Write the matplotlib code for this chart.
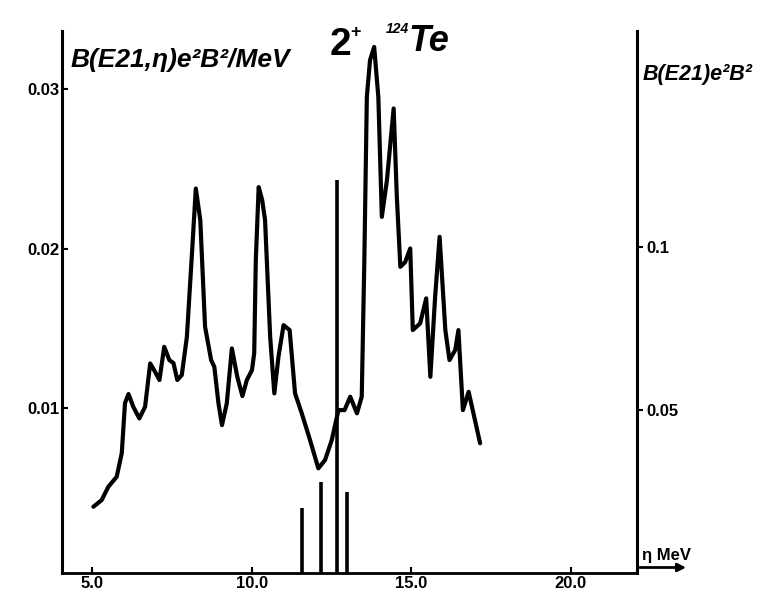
import matplotlib
matplotlib.use("Agg")
import matplotlib.pyplot as plt

# Strength function curve (left axis, e^2 b^2 / MeV) vs excitation energy (MeV)
energy = [5.04, 5.30, 5.51, 5.77, 5.93, 6.03, 6.14, 6.29, 6.48, 6.66, 6.82, 6.97,
          7.11, 7.26, 7.42, 7.55, 7.67, 7.81, 7.97, 8.13, 8.25, 8.39, 8.54, 8.73,
          8.83, 8.96, 9.07, 9.22, 9.38, 9.55, 9.71, 9.85, 10.01, 10.08, 10.13, 10.22,
          10.33, 10.42, 10.58, 10.71, 10.84, 11.00, 11.19, 11.36, 11.57, 11.83, 12.09,
          12.30, 12.51, 12.72, 12.91, 13.09, 13.30, 13.45, 13.53, 13.61, 13.71, 13.84,
          13.97, 14.08, 14.24, 14.45, 14.55, 14.66, 14.81, 14.97, 15.05, 15.28, 15.47,
          15.60, 15.75, 15.89, 16.07, 16.20, 16.38, 16.48, 16.62, 16.80, 17.16]
strength = [0.00381, 0.00423, 0.00507, 0.00569, 0.00718, 0.01031, 0.01088, 0.01008,
            0.00935, 0.01008, 0.01280, 0.01228, 0.01176, 0.01384, 0.01301, 0.01282,
            0.01176, 0.01207, 0.01447, 0.01972, 0.02377, 0.02179, 0.01510, 0.01301,
            0.01259, 0.01029, 0.00893, 0.01029, 0.01374, 0.01196, 0.01075, 0.01176,
            0.01238, 0.01345, 0.01928, 0.02386, 0.02304, 0.02179, 0.01447, 0.01092,
            0.01322, 0.01520, 0.01489, 0.01092, 0.00967, 0.00799, 0.00622, 0.00674,
            0.00799, 0.00987, 0.00987, 0.01071, 0.00967, 0.01071, 0.01909, 0.02952,
            0.03182, 0.03265, 0.02952, 0.02199, 0.02430, 0.02879, 0.02325, 0.01886,
            0.01915, 0.02001, 0.01489, 0.01531, 0.01688, 0.01196, 0.01698, 0.02074,
            0.01489, 0.01301, 0.01364, 0.01489, 0.00987, 0.01102, 0.00779]

# Discrete B(E2) levels (right axis, e^2 b^2)
level_energy = [11.59, 12.18, 12.67, 12.98]
level_be2 = [0.0198, 0.0280, 0.1206, 0.0249]

x_ticks = [5.0, 10.0, 15.0, 20.0]
x_tick_labels = ["5.0", "10.0", "15.0", "20.0"]
left_ticks = [0.01, 0.02, 0.03]
left_tick_labels = ["0.01", "0.02", "0.03"]
right_ticks = [0.05, 0.1]
right_tick_labels = ["0.05", "0.1"]

FONT = ["Liberation Sans Narrow", "Liberation Sans", "DejaVu Sans"]

fig = plt.figure(figsize=(7.63, 5.99), dpi=100)
ax = fig.add_axes([0.081, 0.0434, 0.754, 0.9046])
ax2 = ax.twinx()

ax.plot(energy, strength, color="black", lw=3.0, solid_capstyle="round",
        solid_joinstyle="round")
ax.set_xlim(4.05, 22.08)
ax.set_ylim(-0.000345, 0.03364)
ax2.set_ylim(0, 0.1663)
ax2.vlines(level_energy, 0, level_be2, color="black", lw=2.6)

for a in (ax, ax2):
    for s in a.spines.values():
        s.set_visible(False)
ax.spines["left"].set_visible(True)
ax.spines["bottom"].set_visible(True)
ax2.spines["right"].set_visible(True)
ax.spines["left"].set_linewidth(2.2)
ax.spines["bottom"].set_linewidth(2.0)
ax2.spines["right"].set_linewidth(2.2)

ax.set_xticks(x_ticks)
ax.set_xticklabels(x_tick_labels)
ax.set_yticks(left_ticks)
ax.set_yticklabels(left_tick_labels)
ax2.set_yticks(right_ticks)
ax2.set_yticklabels(right_tick_labels)
ax.tick_params(axis="x", direction="in", length=4, width=1.5, pad=2)
ax.tick_params(axis="y", direction="in", length=4, width=1.5, pad=2)
ax2.tick_params(axis="y", direction="out", length=4, width=1.5, pad=3)
for lab in ax.get_xticklabels() + ax.get_yticklabels() + ax2.get_yticklabels():
    lab.set_fontfamily(FONT)
    lab.set_fontweight("bold")
    lab.set_fontsize(12)

# arrow extension of the energy axis
ax.annotate("", xy=(1.09, 0), xycoords=("axes fraction", "data"),
            xytext=(1.0, 0), textcoords=("axes fraction", "data"),
            arrowprops=dict(arrowstyle="-|>", color="black", lw=2.0,
                            mutation_scale=12), annotation_clip=False)
ax.set_ylim(-0.000345, 0.03364)

fig.text(0.092, 0.90, "B(E21,η)e²B²/MeV", fontsize=19, fontweight="bold",
         style="italic", family=FONT, va="center", ha="left")
fig.text(0.432, 0.925, "2", fontsize=28, family=FONT, fontweight="bold",
         va="center", ha="left")
fig.text(0.459, 0.945, "+", fontsize=13, fontweight="bold", family=FONT,
         va="center", ha="left")
fig.text(0.505, 0.952, "124", fontsize=10, fontweight="bold", family=FONT,
         style="italic", va="center", ha="left")
fig.text(0.535, 0.930, "Te", fontsize=26, family=FONT, style="italic",
         fontweight="bold", va="center", ha="left")
fig.text(0.842, 0.875, "B(E21)e²B²", fontsize=15.5, fontweight="bold",
         style="italic", family=FONT, va="center", ha="left")
fig.text(0.841, 0.072, "η MeV", fontsize=12, fontweight="bold",
         family=FONT, va="center", ha="left")

fig.savefig("out.png", dpi=100)
